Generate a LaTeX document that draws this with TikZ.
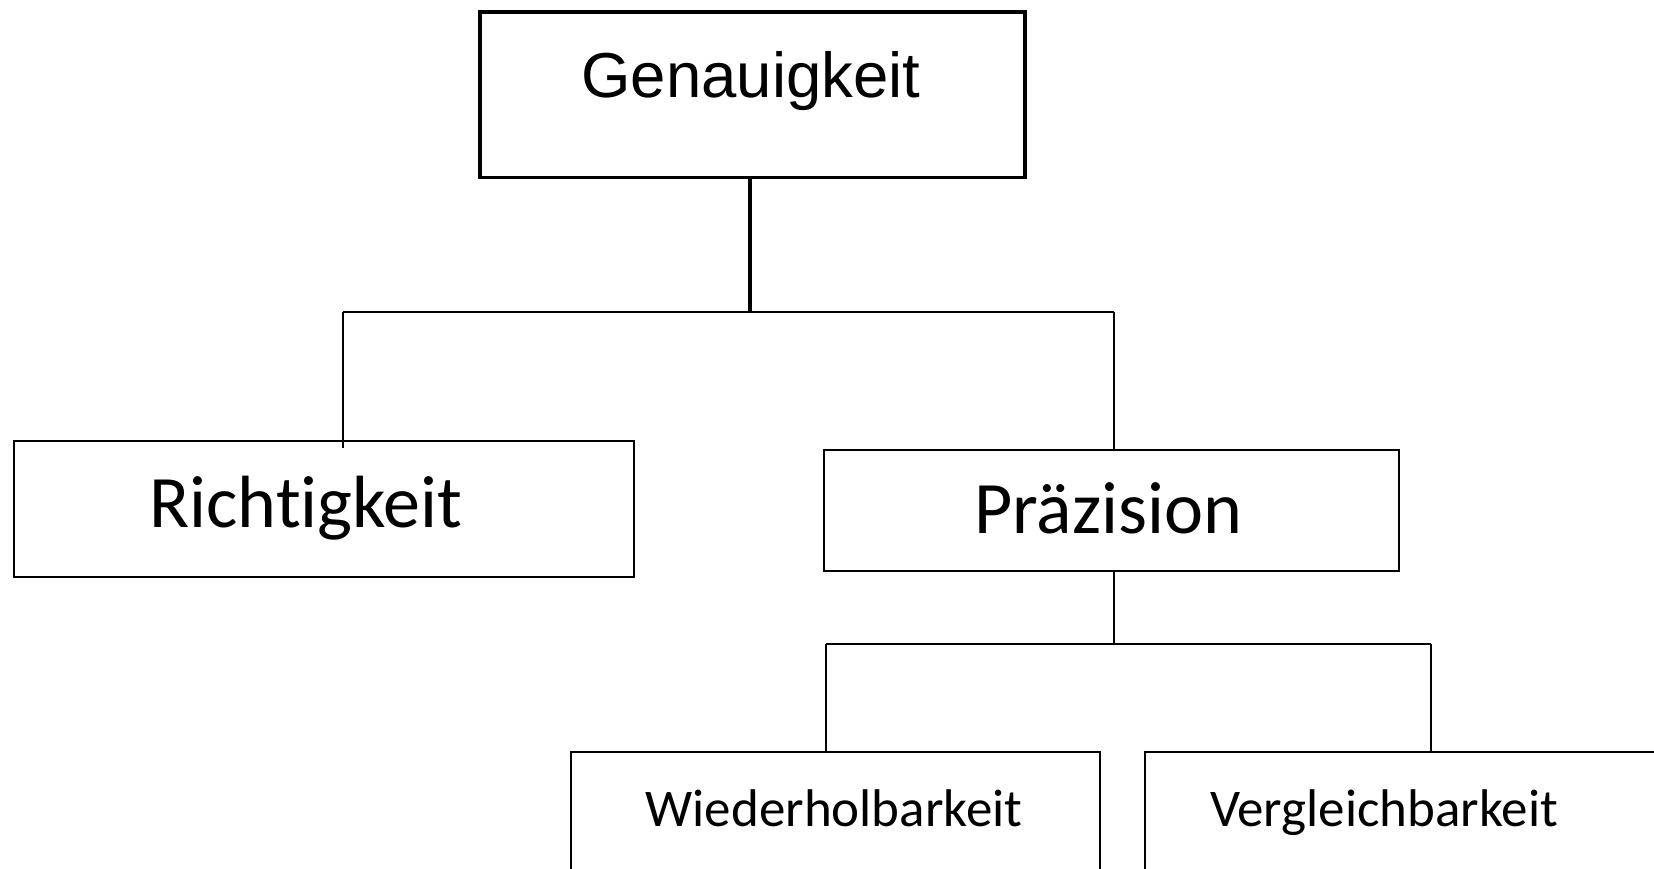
\documentclass[tikz,border=0pt]{standalone}
\usepackage{fontspec}
\newfontfamily\arialf{Liberation Sans}
\newfontfamily\calf[Ligatures={NoCommon}]{Carlito}
\begin{document}
\begin{tikzpicture}[x=1pt,y=-1pt,
  boxa/.style={draw=black, line width=3.5pt, rectangle, inner sep=0pt, anchor=north west},
  boxb/.style={draw=black, line width=2pt, rectangle, inner sep=0pt, anchor=north west},
  conn/.style={draw=black, line width=1.6pt},
  conna/.style={draw=black, line width=3.5pt},
  lbl/.style={inner sep=0pt, anchor=base}]
\clip (0,0) rectangle (1654,869);
\fill[white] (0,0) rectangle (1654,869);
% boxes
\node[boxa, minimum width=545pt, minimum height=165.5pt] (gen) at (478,10.5) {};
\node[boxb, minimum width=620pt, minimum height=136pt] (rich) at (13,440) {};
\node[boxb, minimum width=575pt, minimum height=121pt] (praez) at (823,449) {};
\node[boxb, minimum width=529pt, minimum height=160pt] (wied) at (570,751) {};
\node[boxb, minimum width=560pt, minimum height=160pt] (vergl) at (1144,751) {};
% labels
\node[lbl] (tgen) at (751,98) {\arialf\fontsize{63.5}{76}\selectfont Genauigkeit};
\node[lbl] (trich) at (306,527) {\calf\fontsize{74}{88}\selectfont Richtigkeit};
\node[lbl] (tpraez) at (1108,533) {\calf\fontsize{74}{88}\selectfont Präzision};
\node[lbl] (twied) at (834,826) {\calf\fontsize{53}{64}\selectfont Wiederholbarkeit};
\node[lbl] (tvergl) at (1384,826) {\calf\fontsize{53}{64}\selectfont Vergleichbarkeit};
% junctions
\coordinate (j1) at (750,312);
\coordinate (jl) at (343,312);
\coordinate (jr) at (1114,312);
\coordinate (jlend) at (343,448);
\coordinate (j2) at (1114,644);
\coordinate (j2l) at (826,644);
\coordinate (j2r) at (1431,644);
\coordinate (j2lend) at (826,751);
\coordinate (j2rend) at (1431,751);
% connectors
\draw[conna] (gen.south -| j1) -- (j1);
\draw[conn] (jl) -- (jr);
\draw[conn] (jl) -- (jlend);
\draw[conn] (jr) -- (praez.north -| jr);
\draw[conn] (praez.south -| j2) -- (j2);
\draw[conn] (j2l) -- (j2r);
\draw[conn] (j2l) -- (j2lend);
\draw[conn] (j2r) -- (j2rend);
\end{tikzpicture}
\end{document}
